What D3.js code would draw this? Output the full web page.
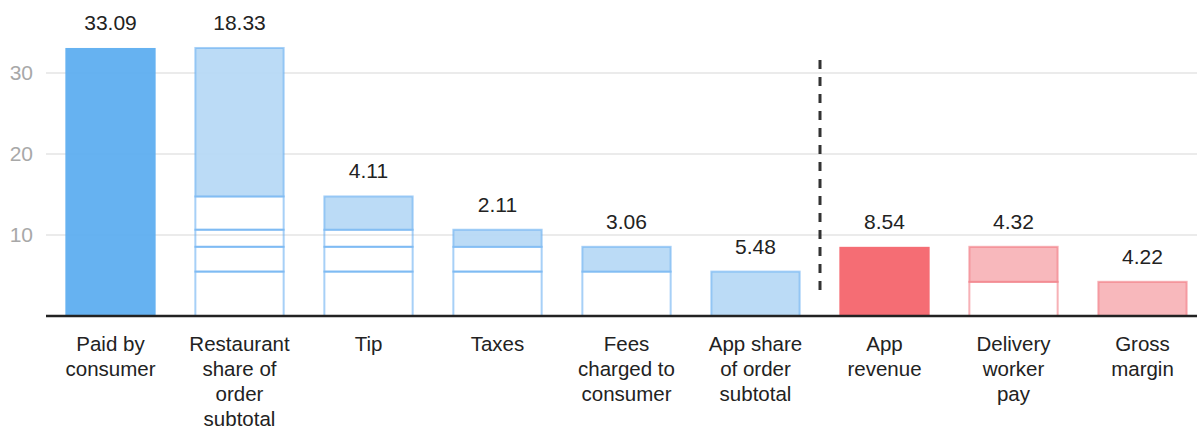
<!DOCTYPE html>
<html>
<head>
<meta charset="utf-8">
<script src="https://cdn.jsdelivr.net/npm/d3@7"></script>
<style>
  html, body { margin: 0; padding: 0; background: #fff; }
  svg { display: block; font-family: "Liberation Sans", Arial, sans-serif; }
</style>
</head>
<body>
<div id="chart"></div>
<script>
// Waterfall: what the consumer pays and where it goes
var categories = ["Paid by consumer", "Restaurant share of order subtotal", "Tip", "Taxes",
    "Fees charged to consumer", "App share of order subtotal", "App revenue",
    "Delivery worker pay", "Gross margin"];
var labelLines = [["Paid by", "consumer"], ["Restaurant", "share of", "order", "subtotal"], ["Tip"], ["Taxes"],
    ["Fees", "charged to", "consumer"], ["App share", "of order", "subtotal"], ["App", "revenue"],
    ["Delivery", "worker", "pay"], ["Gross", "margin"]];
var values = [33.09, 18.33, 4.11, 2.11, 3.06, 5.48, 8.54, 4.32, 4.22];
var bases = [0, 14.76, 10.65, 8.54, 5.48, 0, 0, 4.22, 0];
var kinds = ["total", "part", "part", "part", "part", "part", "total", "part", "part"];
var groups = ["blue", "blue", "blue", "blue", "blue", "blue", "red", "red", "red"];
var yTicks = [10, 20, 30];
var dividerAfter = "App share of order subtotal";
var dividerRange = [2.6, 31.6];

var W = 1197, H = 430;
var margin = { top: 0, left: 46, right: 0 };
var baseY = 316;

var palette = {
    blue: { solid: "#5eaef0", light: "#b7d9f6", stroke: "rgba(94,170,240,0.55)" },
    red:  { solid: "#f4656d", light: "#f8b4b8", stroke: "rgba(240,100,110,0.5)" }
};

var svg = d3.select("#chart").append("svg")
    .attr("width", W).attr("height", H);

var x = d3.scaleBand().domain(categories)
    .range([46, 1207]).paddingInner(0.3).paddingOuter(0.15);
var y = d3.scaleLinear().domain([0, 10]).range([baseY, 235]);

// Grid
svg.append("g").attr("class", "grid")
    .selectAll("line").data(yTicks).enter().append("line")
    .attr("x1", margin.left).attr("x2", W)
    .attr("y1", function (d) { return y(d); }).attr("y2", function (d) { return y(d); })
    .attr("stroke", "#ebebeb").attr("stroke-width", 2);

// Y axis labels
var yAxis = svg.append("g")
    .attr("transform", "translate(" + (margin.left - 13) + ",0)")
    .call(d3.axisLeft(y).tickValues(yTicks).tickSize(0).tickPadding(0));
yAxis.select(".domain").remove();
yAxis.selectAll("text")
    .attr("fill", "#a8a8a8").attr("font-size", "21px")
    .attr("font-family", "\"Liberation Sans\", Arial, sans-serif");

var bars = categories.map(function (c, i) {
    return { cat: c, value: values[i], base: bases[i], kind: kinds[i], group: groups[i], lines: labelLines[i] };
});

// Ghost segments beneath each floating bar
var ghosts = [];
bars.forEach(function (b) {
    if (b.base <= 0) return;
    bars.forEach(function (o) {
        if (o.kind === "part" && o.group === b.group && o.base < b.base) {
            ghosts.push({ cat: b.cat, lo: o.base, hi: o.base + o.value, group: b.group });
        }
    });
});

svg.append("g").attr("class", "ghosts")
    .selectAll("rect").data(ghosts).enter().append("rect")
    .attr("x", function (d) { return x(d.cat) + 1; })
    .attr("width", x.bandwidth() - 2)
    .attr("y", function (d) { return y(d.hi); })
    .attr("height", function (d) { return y(d.lo) - y(d.hi); })
    .attr("fill", "none")
    .attr("stroke", function (d) { return palette[d.group].stroke; })
    .attr("stroke-width", 2);

// Bars
svg.append("g").attr("class", "bars")
    .selectAll("rect").data(bars).enter().append("rect")
    .attr("x", function (d) { return x(d.cat) + (d.kind === "total" ? 0 : 1); })
    .attr("width", function (d) { return x.bandwidth() - (d.kind === "total" ? 0 : 2); })
    .attr("y", function (d) { return y(d.base + d.value); })
    .attr("height", function (d) { return y(d.base) - y(d.base + d.value); })
    .attr("fill", function (d) { return d.kind === "total" ? palette[d.group].solid : palette[d.group].light; })
    .attr("fill-opacity", 0.95)
    .attr("stroke", function (d) { return d.kind === "total" ? "none" : palette[d.group].stroke; })
    .attr("stroke-width", 2);

// Value labels
svg.append("g").attr("class", "values")
    .selectAll("text").data(bars).enter().append("text")
    .attr("x", function (d) { return x(d.cat) + x.bandwidth() / 2; })
    .attr("y", function (d) { return y(d.base + d.value) - 18; })
    .attr("text-anchor", "middle")
    .attr("font-size", "21px")
    .attr("fill", "#222")
    .text(function (d) { return d.value.toFixed(2); });

// Divider
var dx = (x(dividerAfter) + x.bandwidth() + x(categories[categories.indexOf(dividerAfter) + 1])) / 2;
svg.append("line")
    .attr("x1", dx).attr("x2", dx)
    .attr("y1", y(dividerRange[1])).attr("y2", y(dividerRange[0]))
    .attr("stroke", "#333").attr("stroke-width", 3)
    .attr("stroke-dasharray", "9,8");

// Baseline
svg.append("line")
    .attr("x1", margin.left).attr("x2", W)
    .attr("y1", baseY).attr("y2", baseY)
    .attr("stroke", "#222").attr("stroke-width", 2.5);

// Category labels
var cat = svg.append("g").attr("class", "cats")
    .selectAll("text").data(bars).enter().append("text")
    .attr("x", function (d) { return x(d.cat) + x.bandwidth() / 2; })
    .attr("y", baseY + 34.5)
    .attr("text-anchor", "middle")
    .attr("font-size", "20.5px")
    .attr("fill", "#222");
cat.selectAll("tspan").data(function (d) { return d.lines.map(function (l) { return { t: l, x: x(d.cat) + x.bandwidth() / 2 }; }); })
    .enter().append("tspan")
    .attr("x", function (d) { return d.x; })
    .attr("dy", function (d, i) { return i === 0 ? 0 : 25; })
    .text(function (d) { return d.t; });
</script>
</body>
</html>
